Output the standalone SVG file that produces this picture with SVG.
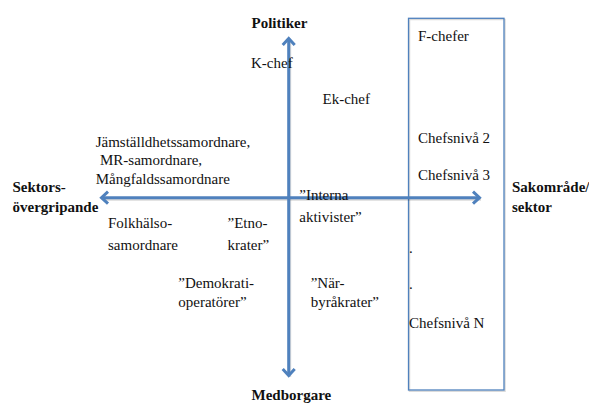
<svg xmlns="http://www.w3.org/2000/svg" width="589" height="403" viewBox="0 0 589 403">
<defs>
<marker id="ah" markerUnits="userSpaceOnUse" markerWidth="20" markerHeight="20" refX="0" refY="0" viewBox="-10 -10 20 20" orient="auto-start-reverse" overflow="visible">
<path d="M-6.5,-6 L0,0 L-6.5,6" fill="none" stroke="#4F81BD" stroke-width="3" stroke-linejoin="miter"/>
</marker>
</defs>
<g id="box-sektor">
<rect x="409.5" y="19.5" width="95.5" height="371.7" fill="none" stroke="#000" stroke-opacity="0.15" stroke-width="1.5"/>
<rect x="408.5" y="18.3" width="95.5" height="371.7" fill="none" stroke="#4F81BD" stroke-width="1.3"/>
</g>
<g id="connectors" fill="none">
<line x1="289.7" y1="40" x2="289.7" y2="377" stroke="#000" stroke-opacity="0.15" stroke-width="3"/>
<line x1="103" y1="199.2" x2="481" y2="199.2" stroke="#000" stroke-opacity="0.15" stroke-width="3"/>
<line x1="288.7" y1="38.5" x2="288.7" y2="375.5" stroke="#4F81BD" stroke-width="3" marker-start="url(#ah)" marker-end="url(#ah)"/>
<line x1="101.5" y1="197.7" x2="479.5" y2="197.7" stroke="#4F81BD" stroke-width="3" marker-start="url(#ah)" marker-end="url(#ah)"/>
</g>
<g id="politiker"><text style="font-family:'Liberation Serif',serif" font-family="Liberation Serif" font-size="15" font-weight="bold" fill="#111" x="251.5" y="28">Politiker</text></g>
<g id="medborgare"><text style="font-family:'Liberation Serif',serif" font-family="Liberation Serif" font-size="15" font-weight="bold" fill="#111" x="251.5" y="400">Medborgare</text></g>
<g id="sektorsovergripande"><text style="font-family:'Liberation Serif',serif" font-family="Liberation Serif" font-size="15" font-weight="bold" fill="#111" x="12.5" y="191.5">Sektors-</text><text style="font-family:'Liberation Serif',serif" font-family="Liberation Serif" font-size="15" font-weight="bold" fill="#111" x="12.5" y="211.5">övergripande</text></g>
<g id="sakomrade"><text style="font-family:'Liberation Serif',serif" font-family="Liberation Serif" font-size="15" font-weight="bold" fill="#111" x="512" y="192">Sakområde/</text><text style="font-family:'Liberation Serif',serif" font-family="Liberation Serif" font-size="15" font-weight="bold" fill="#111" x="512" y="211.5">sektor</text></g>
<g id="k-chef"><text style="font-family:'Liberation Serif',serif" font-family="Liberation Serif" font-size="15" fill="#111" x="251" y="68">K-chef</text></g>
<g id="ek-chef"><text style="font-family:'Liberation Serif',serif" font-family="Liberation Serif" font-size="15" fill="#111" x="322.5" y="104">Ek-chef</text></g>
<g id="f-chefer"><text style="font-family:'Liberation Serif',serif" font-family="Liberation Serif" font-size="15" fill="#111" x="418" y="41">F-chefer</text></g>
<g id="chefsniva2"><text style="font-family:'Liberation Serif',serif" font-family="Liberation Serif" font-size="15" fill="#111" x="418" y="142.5">Chefsnivå 2</text></g>
<g id="chefsniva3"><text style="font-family:'Liberation Serif',serif" font-family="Liberation Serif" font-size="15" fill="#111" x="418" y="180">Chefsnivå 3</text></g>
<g id="dots"><text style="font-family:'Liberation Serif',serif" font-family="Liberation Serif" font-size="15" fill="#111" x="409" y="252.5">.</text><text style="font-family:'Liberation Serif',serif" font-family="Liberation Serif" font-size="15" fill="#111" x="409" y="289">.</text></g>
<g id="chefsnivaN"><text style="font-family:'Liberation Serif',serif" font-family="Liberation Serif" font-size="15" fill="#111" x="409" y="327.5">Chefsnivå N</text></g>
<g id="samordnare"><text style="font-family:'Liberation Serif',serif" font-family="Liberation Serif" font-size="15" fill="#111" x="95.7" y="146.5">Jämställdhetssamordnare,</text><text style="font-family:'Liberation Serif',serif" font-family="Liberation Serif" font-size="15" fill="#111" x="100" y="165">MR-samordnare,</text><text style="font-family:'Liberation Serif',serif" font-family="Liberation Serif" font-size="15" fill="#111" x="95.7" y="184">Mångfaldssamordnare</text></g>
<g id="folkhalso"><text style="font-family:'Liberation Serif',serif" font-family="Liberation Serif" font-size="15" fill="#111" x="108" y="228">Folkhälso-</text><text style="font-family:'Liberation Serif',serif" font-family="Liberation Serif" font-size="15" fill="#111" x="108" y="250">samordnare</text></g>
<g id="etnokrater"><text style="font-family:'Liberation Serif',serif" font-family="Liberation Serif" font-size="15" fill="#111" x="227.5" y="228">”Etno-</text><text style="font-family:'Liberation Serif',serif" font-family="Liberation Serif" font-size="15" fill="#111" x="227.5" y="250">krater”</text></g>
<g id="demokrati"><text style="font-family:'Liberation Serif',serif" font-family="Liberation Serif" font-size="15" fill="#111" x="178.3" y="288">”Demokrati-</text><text style="font-family:'Liberation Serif',serif" font-family="Liberation Serif" font-size="15" fill="#111" x="178.3" y="306.7">operatörer”</text></g>
<g id="interna"><text style="font-family:'Liberation Serif',serif" font-family="Liberation Serif" font-size="15" fill="#111" x="299.3" y="200">”Interna</text><text style="font-family:'Liberation Serif',serif" font-family="Liberation Serif" font-size="15" fill="#111" x="299.3" y="221.5">aktivister”</text></g>
<g id="narbyrakrater"><text style="font-family:'Liberation Serif',serif" font-family="Liberation Serif" font-size="15" fill="#111" x="310.7" y="288">”När-</text><text style="font-family:'Liberation Serif',serif" font-family="Liberation Serif" font-size="15" fill="#111" x="310.7" y="306.7">byråkrater”</text></g>
</svg>
